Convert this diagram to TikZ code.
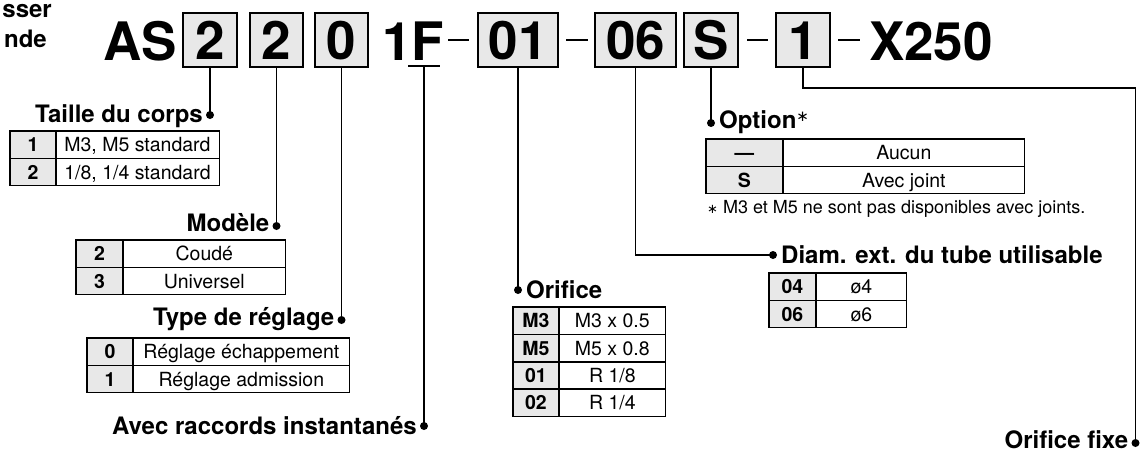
\documentclass[tikz,border=0pt]{standalone}
\usepackage{fontspec}
\setmainfont{TeX Gyre Heros}
\newfontfamily\symf{DejaVu Sans}
\usetikzlibrary{calc}
\definecolor{keygray}{HTML}{E8E8E8}
\tikzset{
  codebox/.style={draw=black, line width=1.4pt, fill=keygray, minimum width=#1, minimum height=54pt, inner sep=0pt, text height=38pt, text depth=0pt, font=\fontsize{53}{53}\bfseries\selectfont},
  code/.style={inner sep=0pt, anchor=base, font=\fontsize{53}{53}\bfseries\selectfont},
  codedash/.style={line width=2.6pt},
  dot/.style={circle, fill=black, inner sep=0pt, minimum size=8pt},
  conn/.style={line width=1.5pt},
  lab/.style={inner sep=0pt, font=\fontsize{24}{26}\bfseries\selectfont},
  kcell/.style={draw=black, line width=0.9pt, fill=keygray, inner sep=0pt, minimum width=#1, minimum height=26.5pt, text height=14pt, text depth=0pt, font=\fontsize{19.5}{20}\bfseries\selectfont},
  vcell/.style={draw=black, line width=0.9pt, fill=white, inner sep=0pt, minimum width=#1, minimum height=26.5pt, text height=14pt, text depth=0pt, font=\fontsize{19.5}{20}\selectfont},
  frame/.style={draw=black, line width=1.3pt},
  note/.style={inner sep=0pt, font=\fontsize{18}{20}\selectfont},
}
\newcommand\firstrow[7]{%
  \node[kcell=#4, anchor=north west] (#1k) at (#2,#3) {#6};
  \node[vcell=#5, anchor=west] (#1v) at (#1k.east) {#7};}
\newcommand\nextrow[6]{%
  \node[kcell=#3, anchor=north] (#1k) at (#2k.south) {#5};
  \node[vcell=#4, anchor=west] (#1v) at (#1k.east) {#6};}
\begin{document}
\begin{tikzpicture}[x=1pt,y=-1pt]
\useasboundingbox (0,0) rectangle (1140,453);

% partial heading at top left
\node[lab, anchor=base east] (hd1) at (52,17) {sser};
\node[lab, anchor=base east] (hd2) at (47,47) {nde};

% code line
\node[code] (as) at (140,60) {AS};
\node[codebox=54pt] (b1) at (210,40) {2};
\node[codebox=53pt] (b2) at (276.5,40) {2};
\node[codebox=53pt] (b3) at (341.5,40) {0};
\node[code] (f1) at (413,60) {1F};
\coordinate (fuL) at (408,66);
\coordinate (fuR) at (440,66);
\coordinate (fu) at (424,66);
\draw[conn] (fuL) -- (fuR);
\coordinate (da1) at (448,40); \coordinate (da1e) at (469,40);
\draw[codedash] (da1) -- (da1e);
\node[codebox=80pt] (b01) at (518,40) {01};
\coordinate (da2) at (566,40); \coordinate (da2e) at (588,40);
\draw[codedash] (da2) -- (da2e);
\node[codebox=81pt] (b06) at (635.5,40) {06};
\node[codebox=54pt] (bS) at (711,40) {S};
\coordinate (da3) at (747,40); \coordinate (da3e) at (768,40);
\draw[codedash] (da3) -- (da3e);
\node[codebox=54pt] (b1b) at (803,40) {1};
\coordinate (da4) at (838,40); \coordinate (da4e) at (860,40);
\draw[codedash] (da4) -- (da4e);
\node[code] (x250) at (931,60) {X250};

% dots
\node[dot] (d1) at (210,115) {};
\node[dot] (d2) at (276.5,226) {};
\node[dot] (d3) at (341.5,320) {};
\node[dot] (dF) at (424,426) {};
\node[dot] (d01) at (518,290) {};
\node[dot] (d06) at (773,255) {};
\node[dot] (dS) at (711,123) {};
\node[dot] (d1b) at (1135.5,443) {};
\coordinate (c1b) at (1135.5,88);

% connectors
\draw[conn] (b1.south) -- (d1.center);
\draw[conn] (b2.south) -- (d2.center);
\draw[conn] (b3.south) -- (d3.center);
\draw[conn] (fu) -- (dF.center);
\draw[conn] (b01.south) -- (d01.center);
\draw[conn] (b06.south) |- (d06.center);
\draw[conn] (bS.south) -- (dS.center);
\draw[conn] (b1b.south) |- (c1b) -- (d1b.center);

% labels
\node[lab, anchor=base east] (l1) at ($(d1)+(-7,7)$) {Taille du corps};
\node[lab, anchor=base east] (l2) at ($(d2)+(-7,5)$) {Modèle};
\node[lab, anchor=base east] (l3) at ($(d3)+(-7,5)$) {Type de réglage};
\node[lab, anchor=base east] (lF) at ($(dF)+(-7,8)$) {Avec raccords instantanés};
\node[lab, anchor=base west] (l01) at ($(d01)+(8,8)$) {Orifice};
\node[lab, anchor=base west] (lS) at ($(dS)+(8,5)$) {Option\raisebox{7pt}{\symf\mdseries\fontsize{15}{15}\selectfont ∗}};
\node[lab, anchor=base west] (l06) at ($(d06)+(8,8)$) {Diam. ext. du tube utilisable};
\node[lab, anchor=base east] (l1b) at ($(d1b)+(-7,5)$) {Orifice fixe};

% table: Taille du corps
\node[kcell=45pt, anchor=north west] (taak) at (10,131) {1};
\node[vcell=163pt, anchor=west, inner xsep=8pt] (taav) at (taak.east) {\makebox[147pt][l]{M3, M5 standard}};
\node[kcell=45pt, anchor=north] (tabk) at (taak.south) {2};
\node[vcell=163pt, anchor=west, inner xsep=8pt] (tabv) at (tabk.east) {\makebox[147pt][l]{1/8, 1/4 standard}};
\draw[frame] (taak.north west) rectangle (tabv.south east);

% table: Modèle
\firstrow{tba}{76}{240}{46pt}{162pt}{2}{Coudé}
\nextrow{tbb}{tba}{46pt}{162pt}{3}{Universel}
\draw[frame] (tbak.north west) rectangle (tbbv.south east);

% table: Type de réglage
\firstrow{tca}{87}{338}{45pt}{216pt}{0}{Réglage échappement}
\nextrow{tcb}{tca}{45pt}{216pt}{1}{Réglage admission}
\draw[frame] (tcak.north west) rectangle (tcbv.south east);

% table: Orifice
\firstrow{tda}{513}{307}{45pt}{106pt}{M3}{M3 x 0.5}
\nextrow{tdb}{tda}{45pt}{106pt}{M5}{M5 x 0.8}
\nextrow{tdc}{tdb}{45pt}{106pt}{01}{R 1/8}
\nextrow{tdd}{tdc}{45pt}{106pt}{02}{R 1/4}
\draw[frame] (tdak.north west) rectangle (tddv.south east);

% table: Option
\firstrow{tea}{706}{139}{76pt}{241pt}{—}{Aucun}
\nextrow{teb}{tea}{76pt}{241pt}{S}{Avec joint}
\draw[frame] (teak.north west) rectangle (tebv.south east);
\node[note, anchor=base west] (fn) at (707,213) {{\symf\fontsize{13}{13}\selectfont ∗} M3 et M5 ne sont pas disponibles avec joints.};

% table: Diam. ext.
\firstrow{tfa}{769}{273}{46pt}{90pt}{04}{ø4}
\nextrow{tfb}{tfa}{46pt}{90pt}{06}{ø6}
\draw[frame] (tfak.north west) rectangle (tfbv.south east);
\end{tikzpicture}
\end{document}
